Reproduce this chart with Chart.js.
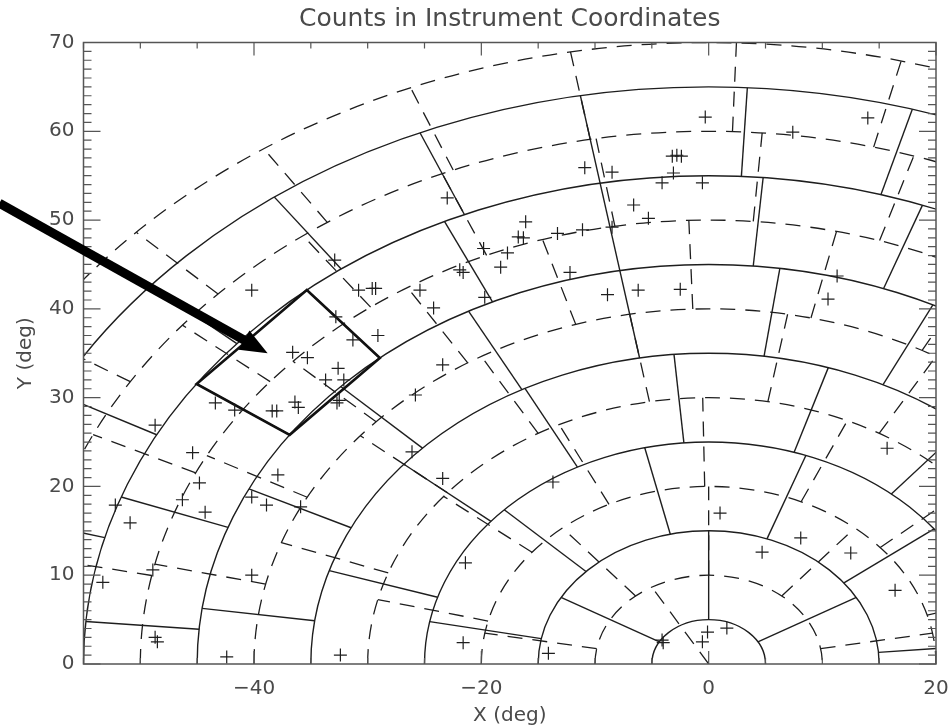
<!DOCTYPE html>
<html>
<head>
<meta charset="utf-8">
<script src="https://cdn.jsdelivr.net/npm/chart.js@4.4.0/dist/chart.umd.min.js"></script>
<style>
  html, body { margin: 0; padding: 0; background: #fff; }
  #wrap { width: 949px; height: 728px; }
</style>
</head>
<body>
<div id="wrap"><canvas id="chart"></canvas></div>
<script>
// axis ticks
const xTicks = [-40, -20, 0, 20];
const yTicks = [0, 10, 20, 30, 40, 50, 60, 70];
const xMinorStep = 5;
const yMinorStep = 1;

// solid cell layout: ring inner/outer radius and the radial borders (deg) in each ring
const solidArcs = [5, 15, 25, 35, 45, 55, 65];
const solidRingIn = [5, 15, 25, 35, 45, 55];
const solidRingOut = [15, 25, 35, 45, 55, 65];
const solidSpokes = [
  [30, 90, 150],
  [5, 37.5, 70, 103, 136, 169],
  [5, 27.5, 50, 72.5, 95, 117.5, 140, 162.5],
  [10, 28, 46, 64, 82, 100, 118, 136, 154, 172],
  [25, 40, 55, 70, 85, 100, 115, 130, 145, 160, 175],
  [35, 48, 61, 74, 87, 100, 113, 126, 139, 152, 165, 178]
];

// dashed cell layout
const dashedArcs = [10, 20, 30, 40, 50, 60, 70];
const dashedRingIn = [0, 10, 20, 30, 40, 50, 60];
const dashedRingOut = [10, 20, 30, 40, 50, 60, 70];
const dashedSpokes = [
  [120],
  [10, 50, 90, 130, 170],
  [16, 41, 66, 91, 116, 141, 166],
  [20, 40, 60, 80, 100, 120, 140, 160],
  [47, 62, 77, 92, 107, 122, 137, 152, 167],
  [58.5, 72.5, 85.5, 99.5, 113, 126.5, 140.5, 154.5, 168.5],
  [64, 76, 88, 100, 112, 124, 136, 148, 160, 172]
];

// highlighted cell (radius range, angle range)
const cellR = [45, 55];
const cellDeg = [130, 145];

// arrow, data units (tail, tip)
const arrowX = [-62.4, -38.8];
const arrowY = [51.9, 35.0];

// event positions
const countsX = [
  -0.3, 7.4, 14.0, -3.2, -2.8, -2.4, -3.1, -4.1, -0.55, -6.6, -5.3, -10.9, -8.5,
  -23.0, -16.1, -16.75, -16.3, -13.3, -11.1, -8.5, -19.8, -17.7, -18.3, -21.9, -21.6,
  -12.2, -8.9, -19.7, -25.4, -24.2, -29.6, -29.3, -30.8, -32.9, -32.8, -31.3, -29.1,
  -35.3, -36.6, -32.6, -33.7, -32.1, -32.7, -32.5, -23.4, -25.8, -26.1, -23.4, -13.7,
  -40.2, -43.4, -41.7, -38.4, -38.0, -36.4, -36.1, -48.7, -45.4, -44.8, -37.9, -44.3,
  -46.3, -52.2, -50.9, -40.2, -38.9, -35.9, -48.9, -53.3, -40.2, -48.7, -48.5, -42.4,
  -32.4, -21.4, -21.6, -14.1, 1.0, 8.1, 4.7, 12.5, 16.4, 1.6, -0.1, -0.55, -4.0, -4.1,
  -6.2, -2.5, 11.3, 10.5, 15.7
];
const countsY = [
  61.6, 59.9, 61.5, 57.2, 57.3, 57.2, 55.3, 54.2, 54.2, 51.7, 50.2, 55.9, 55.4,
  52.5, 49.8, 48.1, 48.0, 48.5, 48.9, 49.2, 46.8, 46.3, 44.7, 44.4, 44.1,
  44.1, 41.6, 41.3, 42.1, 40.1, 42.3, 42.3, 42.1, 45.5, 39.1, 36.5, 37.0,
  34.5, 35.1, 33.3, 32.0, 32.0, 29.4, 29.7, 33.7, 30.3, 23.9, 20.9, 20.5,
  42.1, 29.4, 28.6, 28.5, 28.5, 29.5, 28.9, 26.9, 23.8, 20.4, 21.3, 17.1,
  18.5, 17.9, 15.9, 18.8, 17.9, 17.7, 10.6, 9.2, 10.0, 3.0, 2.5, 0.8,
  1.0, 11.4, 2.4, 1.2, 17.0, 14.2, 12.6, 12.5, 8.3, 4.05, 3.6, 2.5, 2.4, 2.7,
  42.1, 42.2, 43.7, 41.1, 24.3
];

const ink = '#1e1e1e';
const textGray = '#4a4a4a';

function toPx(chart, r, deg) {
  const a = deg * Math.PI / 180;
  return [chart.scales.x.getPixelForValue(r * Math.cos(a)),
          chart.scales.y.getPixelForValue(r * Math.sin(a))];
}

function arc(ctx, chart, r) {
  const xs = chart.scales.x, ys = chart.scales.y;
  const cx = xs.getPixelForValue(0), cy = ys.getPixelForValue(0);
  ctx.beginPath();
  ctx.ellipse(cx, cy, xs.getPixelForValue(r) - cx, cy - ys.getPixelForValue(r), 0, Math.PI, 2 * Math.PI);
  ctx.stroke();
}

function spoke(ctx, chart, r1, r2, deg) {
  const a = toPx(chart, r1, deg), b = toPx(chart, r2, deg);
  ctx.beginPath();
  ctx.moveTo(a[0], a[1]);
  ctx.lineTo(b[0], b[1]);
  ctx.stroke();
}

const gridPlugin = {
  id: 'instrumentGrid',
  beforeDatasetsDraw(chart) {
    const ctx = chart.ctx, area = chart.chartArea;
    ctx.save();
    ctx.beginPath();
    ctx.rect(area.left, area.top, area.right - area.left, area.bottom - area.top);
    ctx.clip();
    ctx.strokeStyle = ink;
    ctx.lineCap = 'butt';

    // dashed layout
    ctx.lineWidth = 1.3;
    ctx.setLineDash([15, 10]);
    dashedArcs.forEach(r => arc(ctx, chart, r));
    dashedSpokes.forEach((angles, i) => {
      angles.forEach(d => spoke(ctx, chart, dashedRingIn[i], dashedRingOut[i], d));
    });

    // solid layout
    ctx.setLineDash([]);
    ctx.lineWidth = 1.4;
    solidArcs.forEach(r => arc(ctx, chart, r));
    solidSpokes.forEach((angles, i) => {
      angles.forEach(d => spoke(ctx, chart, solidRingIn[i], solidRingOut[i], d));
    });

    // highlighted cell
    ctx.lineWidth = 2.6;
    ctx.strokeStyle = '#111';
    const c = [toPx(chart, cellR[0], cellDeg[0]), toPx(chart, cellR[1], cellDeg[0]),
               toPx(chart, cellR[1], cellDeg[1]), toPx(chart, cellR[0], cellDeg[1])];
    ctx.beginPath();
    ctx.moveTo(c[0][0], c[0][1]);
    c.slice(1).forEach(p => ctx.lineTo(p[0], p[1]));
    ctx.closePath();
    ctx.stroke();
    ctx.restore();
  },
  afterDraw(chart) {
    const ctx = chart.ctx, area = chart.chartArea;
    const xs = chart.scales.x, ys = chart.scales.y;
    ctx.save();
    ctx.strokeStyle = '#555';
    ctx.lineWidth = 1.5;
    ctx.strokeRect(area.left, area.top, area.right - area.left, area.bottom - area.top);

    ctx.lineWidth = 1.2;
    ctx.beginPath();
    for (let v = xs.min; v <= xs.max + 1e-9; v += xMinorStep) {
      const p = xs.getPixelForValue(v);
      const len = xTicks.includes(v) ? 13 : 6;
      ctx.moveTo(p, area.bottom); ctx.lineTo(p, area.bottom - len);
      ctx.moveTo(p, area.top); ctx.lineTo(p, area.top + len);
    }
    for (let v = ys.min; v <= ys.max + 1e-9; v += yMinorStep) {
      const p = ys.getPixelForValue(v);
      const len = yTicks.includes(v) ? 17 : 8;
      ctx.moveTo(area.left, p); ctx.lineTo(area.left + len, p);
      ctx.moveTo(area.right, p); ctx.lineTo(area.right - len, p);
    }
    ctx.stroke();

    // arrow
    const tx = xs.getPixelForValue(arrowX[0]), ty = ys.getPixelForValue(arrowY[0]);
    const hx = xs.getPixelForValue(arrowX[1]), hy = ys.getPixelForValue(arrowY[1]);
    const ang = Math.atan2(hy - ty, hx - tx);
    const headLen = 27, headHalf = 11;
    const bx = hx - headLen * Math.cos(ang), by = hy - headLen * Math.sin(ang);
    ctx.strokeStyle = '#000';
    ctx.fillStyle = '#000';
    ctx.lineWidth = 9;
    ctx.beginPath();
    ctx.moveTo(tx, ty);
    ctx.lineTo(bx + 2 * Math.cos(ang), by + 2 * Math.sin(ang));
    ctx.stroke();
    ctx.beginPath();
    ctx.moveTo(hx, hy);
    ctx.lineTo(bx - headHalf * Math.sin(ang), by + headHalf * Math.cos(ang));
    ctx.lineTo(bx + headHalf * Math.sin(ang), by - headHalf * Math.cos(ang));
    ctx.closePath();
    ctx.fill();
    ctx.restore();
  }
};

const tickFont = { family: 'DejaVu Sans', size: 20 };
const fmt = v => (v < 0 ? '\u2212' + Math.abs(v) : String(v));

new Chart(document.getElementById('chart'), {
  type: 'scatter',
  data: {
    datasets: [{
      label: 'Counts',
      data: countsX.map((x, i) => ({ x: x, y: countsY[i] })),
      pointStyle: 'cross',
      radius: 6.5,
      borderColor: ink,
      borderWidth: 1.2,
      showLine: false
    }]
  },
  options: {
    responsive: true,
    maintainAspectRatio: false,
    animation: false,
    layout: { padding: { left: 0, right: 13, top: 0, bottom: 0 } },
    plugins: {
      legend: { display: false },
      tooltip: { enabled: false },
      title: {
        display: true,
        fullSize: false,
        text: 'Counts in Instrument Coordinates',
        color: textGray,
        font: { family: 'DejaVu Sans', size: 25, weight: 'normal', lineHeight: 1.2 },
        padding: { top: 4, bottom: 8.5 }
      }
    },
    scales: {
      x: {
        type: 'linear',
        min: -55,
        max: 20,
        afterBuildTicks: s => { s.ticks = xTicks.map(v => ({ value: v })); },
        afterFit: s => { s.height = 64; s.paddingLeft = 0; s.paddingRight = 0; },
        grid: { display: false, drawTicks: false },
        border: { display: false },
        ticks: { font: tickFont, color: textGray, padding: 13, callback: fmt, maxRotation: 0 },
        title: { display: true, text: 'X (deg)', color: textGray, font: tickFont, padding: { top: 0, bottom: 0 } }
      },
      y: {
        type: 'linear',
        min: 0,
        max: 70,
        afterBuildTicks: s => { s.ticks = yTicks.map(v => ({ value: v })); },
        afterFit: s => { s.width = 83.5; s.paddingTop = 0; s.paddingBottom = 0; },
        grid: { display: false, drawTicks: false },
        border: { display: false },
        ticks: { font: tickFont, color: textGray, padding: 9, callback: fmt },
        title: { display: true, text: 'Y (deg)', color: textGray, font: tickFont, padding: { top: 14, bottom: 14 } }
      }
    }
  },
  plugins: [gridPlugin]
});
</script>
</body>
</html>
